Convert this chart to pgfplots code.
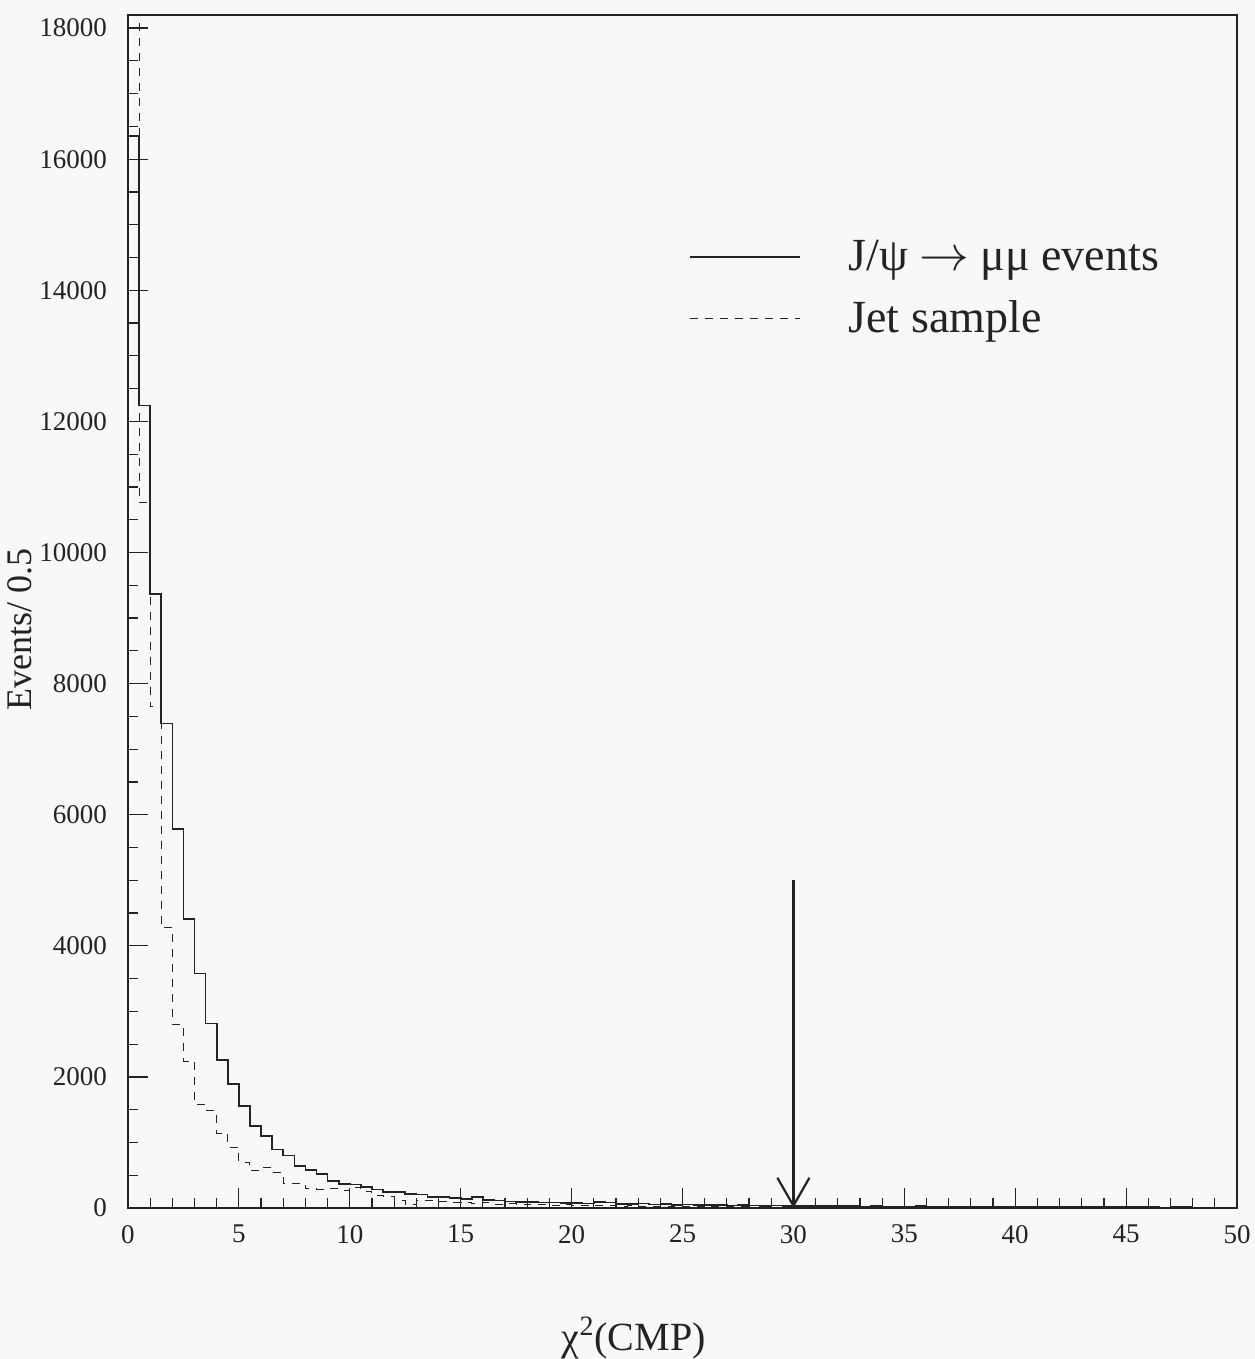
\documentclass[border=0pt]{standalone}
\usepackage{fontspec}
\setmainfont{Liberation Serif}
\usepackage{pgfplots}
\usepackage{pgfplotstable}
\pgfplotsset{compat=1.18}
\usetikzlibrary{arrows.meta,backgrounds}
\definecolor{ink}{RGB}{35,35,35}
\definecolor{paper}{RGB}{248,247,250}

\pgfplotstableread{
x y
0.0 16350
0.5 12240
1.0 9370
1.5 7390
2.0 5780
2.5 4410
3.0 3580
3.5 2815
4.0 2257
4.5 1891
5.0 1560
5.5 1250
6.0 1100
6.5 890
7.0 800
7.5 640
8.0 580
8.5 520
9.0 415
9.5 370
10.0 360
10.5 320
11.0 285
11.5 240
12.0 240
12.5 210
13.0 205
13.5 170
14.0 165
14.5 155
15.0 140
15.5 165
16.0 120
16.5 115
17.0 100
17.5 95
18.0 95
18.5 85
19.0 85
19.5 80
20.0 75
20.5 70
21.0 90
21.5 85
22.0 65
22.5 60
23.0 70
23.5 55
24.0 60
24.5 50
25.0 55
25.5 50
26.0 45
26.5 50
27.0 40
27.5 45
28.0 40
28.5 35
29.0 40
29.5 35
30.0 35
30.5 30
31.0 32
31.5 30
32.0 28
32.5 30
33.0 25
33.5 28
34.0 25
34.5 22
35.0 25
35.5 30
36.0 22
36.5 20
37.0 24
37.5 20
38.0 22
38.5 18
39.0 20
39.5 18
40.0 16
40.5 18
41.0 15
41.5 16
42.0 14
42.5 16
43.0 13
43.5 14
44.0 12
44.5 14
45.0 12
45.5 11
46.0 12
46.5 10
47.0 20
47.5 15
48.0 10
48.5 9
49.0 10
49.5 8
50.0 8
}\solidtab

\pgfplotstableread{
x y
0.0 18600
0.5 10760
1.0 7650
1.5 4280
2.0 2800
2.5 2240
3.0 1580
3.5 1480
4.0 1140
4.5 930
5.0 700
5.5 570
6.0 620
6.5 540
7.0 380
7.5 375
8.0 290
8.5 280
9.0 290
9.5 270
10.0 320
10.5 250
11.0 190
11.5 170
12.0 120
12.5 60
13.0 110
13.5 115
14.0 100
14.5 90
15.0 90
15.5 70
16.0 80
16.5 60
17.0 65
17.5 55
18.0 50
18.5 60
19.0 45
19.5 50
20.0 40
20.5 45
21.0 35
21.5 40
22.0 30
22.5 35
23.0 30
23.5 25
24.0 30
24.5 25
25.0 20
25.5 25
26.0 20
26.5 22
27.0 18
27.5 20
28.0 15
28.5 18
29.0 15
29.5 12
30.0 12
30.5 14
31.0 10
31.5 12
32.0 10
32.5 11
33.0 9
33.5 10
34.0 8
34.5 10
35.0 8
35.5 9
36.0 7
36.5 8
37.0 10
37.5 7
38.0 6
38.5 8
39.0 6
39.5 7
40.0 5
40.5 6
41.0 5
41.5 6
42.0 4
42.5 5
43.0 4
43.5 5
44.0 4
44.5 3
45.0 4
45.5 3
46.0 4
46.5 3
47.0 3
47.5 2
48.0 3
48.5 2
49.0 2
49.5 2
50.0 2
}\jettab

\begin{document}
\begin{tikzpicture}
\begin{axis}[
  scale only axis, width=554.5pt, height=596.5pt,
  xmin=0, xmax=50, ymin=0, ymax=18200,
  xtick={0,5,...,50}, minor x tick num=4,
  ytick={0,2000,...,18000}, minor y tick num=3,
  tick align=inside, xtick pos=bottom, ytick pos=left,
  major tick length=10pt, minor tick length=5pt,
  every tick/.style={ink, line width=0.6pt},
  axis line style={ink, line width=0.7pt},
  ticklabel style={font=\fontsize{13.5}{16}\selectfont, text=ink},
  /pgf/number format/assume math mode=true,
  /pgf/number format/1000 sep={},
  scaled y ticks=false,
  xticklabel style={yshift=-5pt},
  yticklabel style={xshift=-7pt},
  legend style={draw=none, fill=none, at={(rel axis cs:0.500,0.818)}, anchor=north west,
    font=\fontsize{23}{28}\selectfont, text=ink, row sep=9.5pt,
    /tikz/every odd column/.append style={column sep=22pt}},
  legend cell align=left,
  legend image code/.code={\draw[#1] (0pt,0pt) -- (55pt,0pt);},
]
\addplot[const plot, ink, line width=0.8pt] table[x=x,y=y] {\solidtab};
\addlegendentry{J/ψ $\rightarrow$ μμ events}
\addplot[const plot, ink, line width=0.5pt, dash pattern=on 4pt off 3.5pt] table[x=x,y=y] {\jettab};
\addlegendentry{Jet sample}
\draw[ink, line width=1.1pt, -{Straight Barb[length=14pt,width=16pt,line width=1.1pt]}] (axis cs:30,5000) -- (axis cs:30,0);
\coordinate (SW) at (rel axis cs:0,0);
\coordinate (NE) at (rel axis cs:1,1);
\coordinate (YL) at (rel axis cs:0,0.485);
\coordinate (XL) at (rel axis cs:0.456,0);
\end{axis}
\node[rotate=90, font=\fontsize{18}{21}\selectfont, text=ink] at ([xshift=-54pt]YL) {Events/ 0.5};
\node[font=\fontsize{20}{24}\selectfont, text=ink] at ([yshift=-65pt]XL) {χ\textsuperscript{2}(CMP)};
\pgfresetboundingbox
\path ([shift={(-64pt,-75.5pt)}]SW) rectangle ([shift={(9pt,7.5pt)}]NE);
\begin{pgfonlayer}{background}
\fill[paper] ([shift={(-64pt,-75.5pt)}]SW) rectangle ([shift={(9pt,7.5pt)}]NE);
\end{pgfonlayer}
\end{tikzpicture}
\end{document}
